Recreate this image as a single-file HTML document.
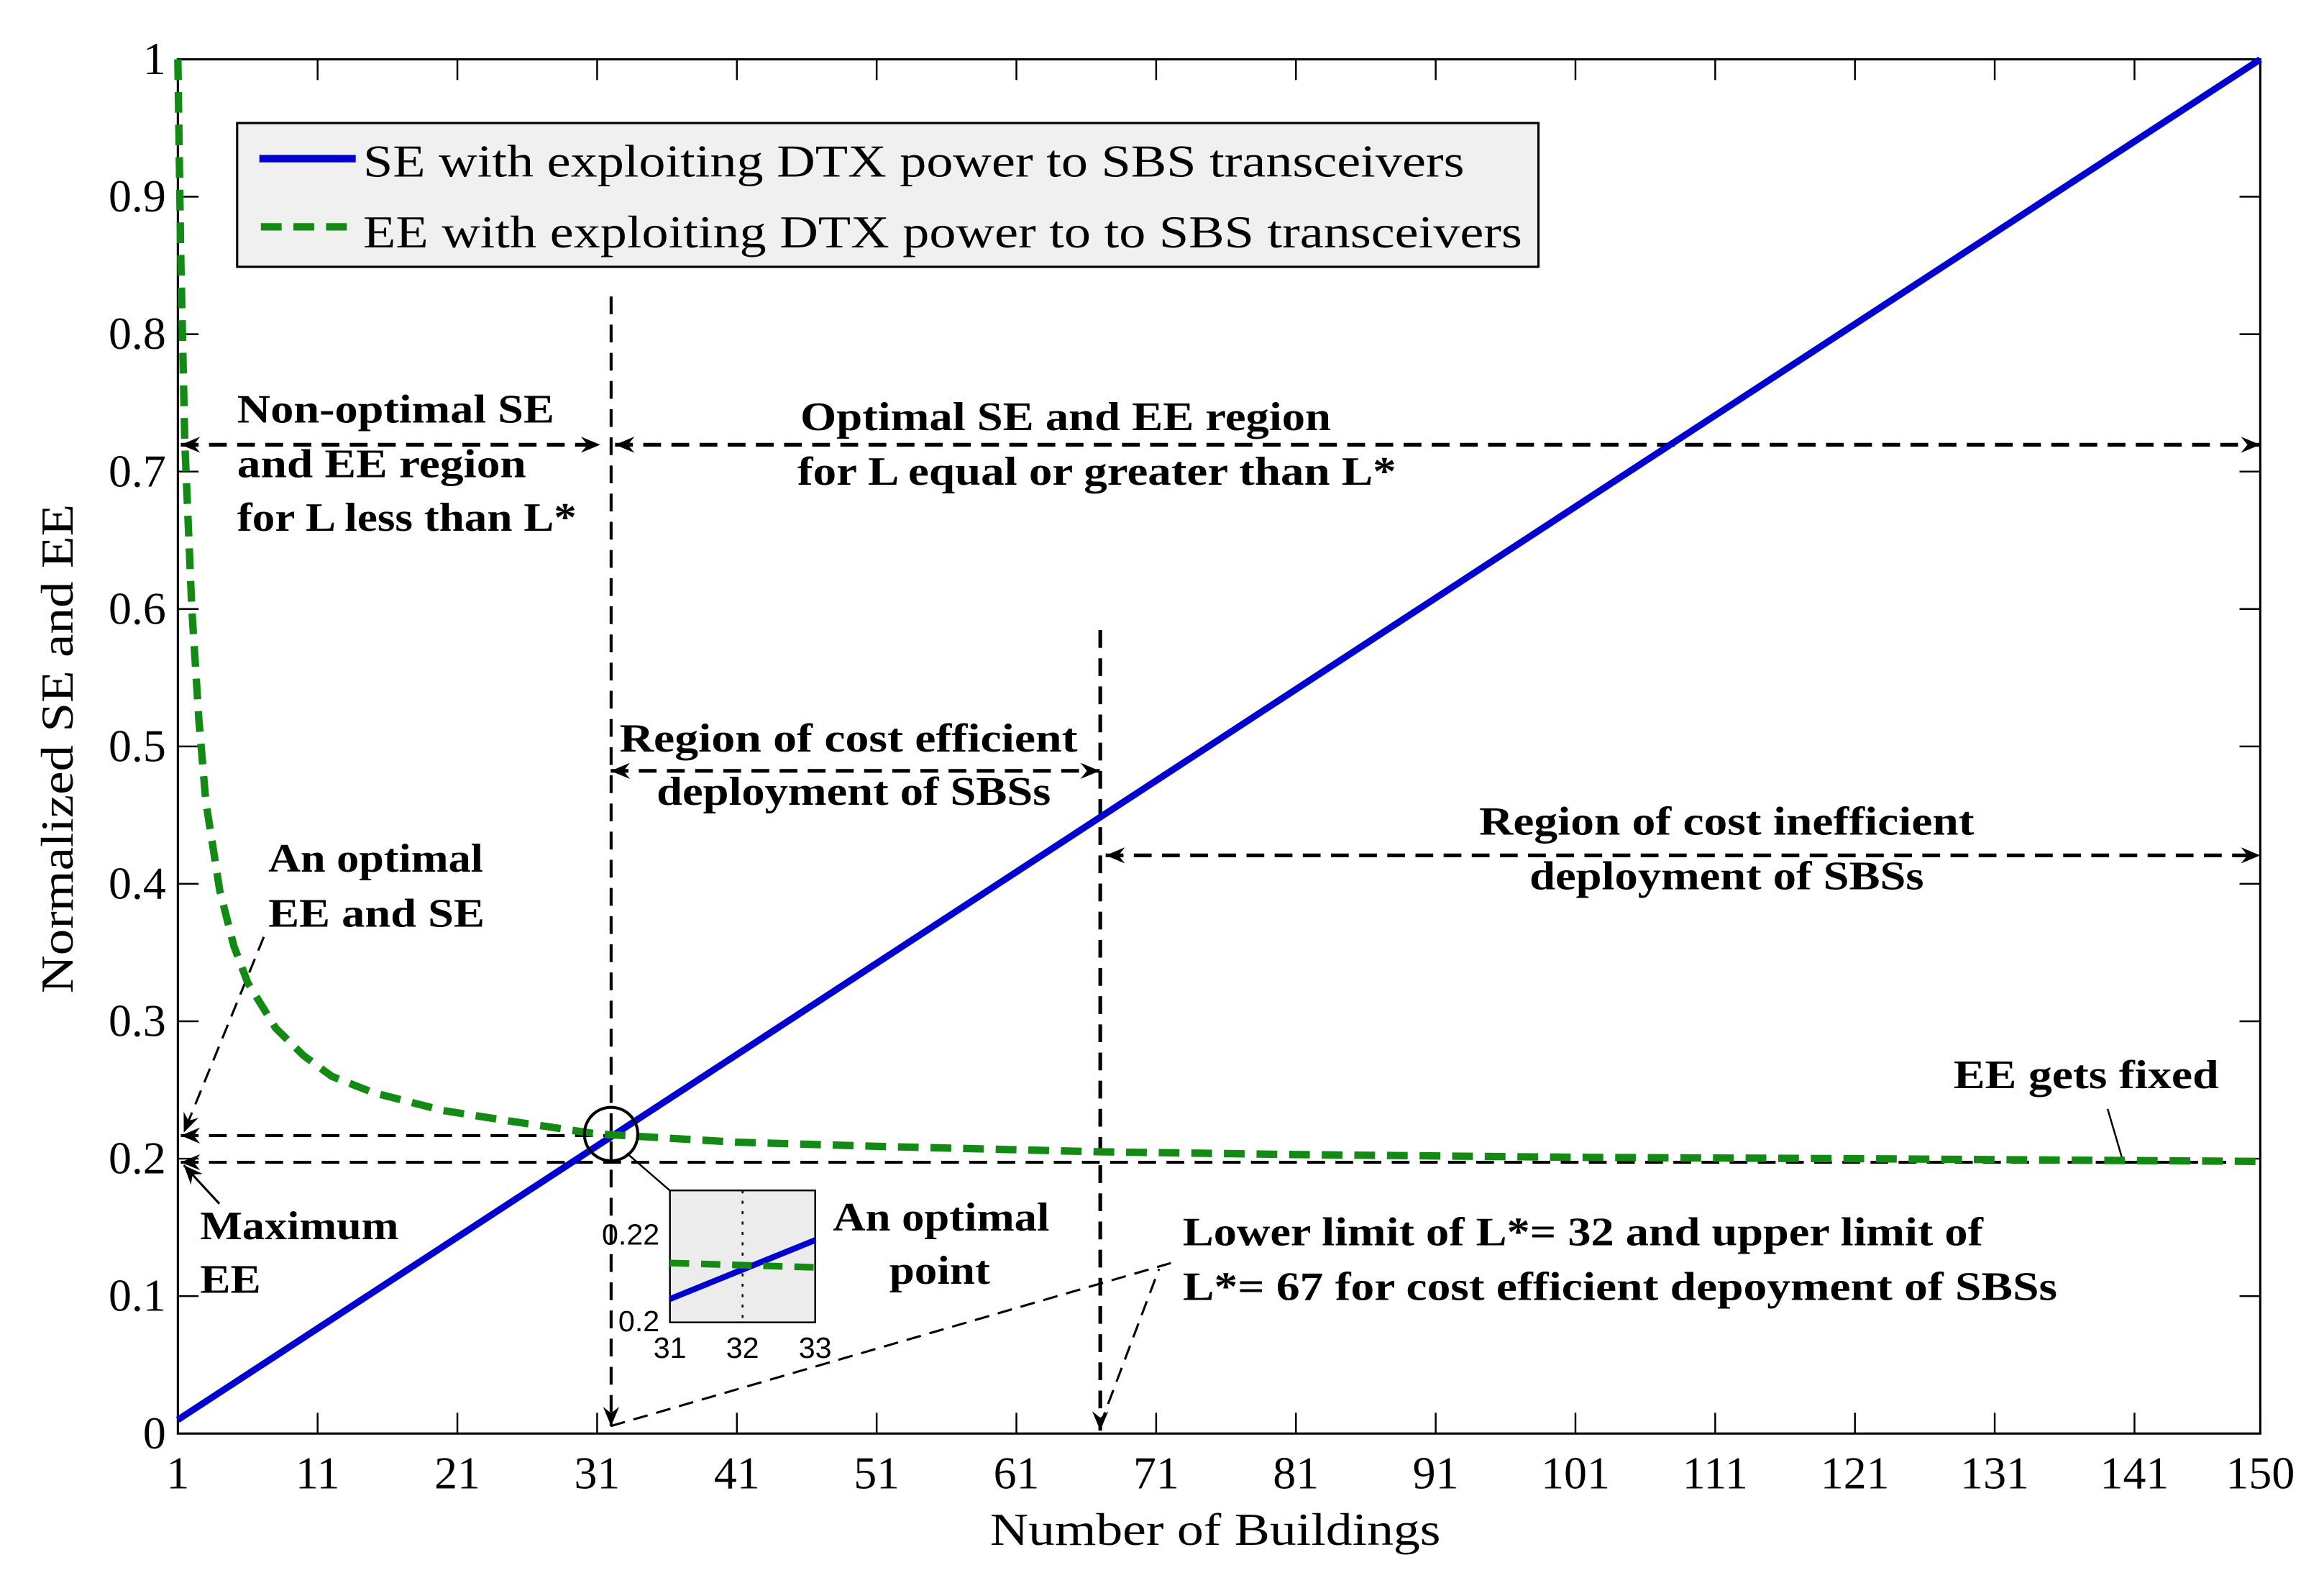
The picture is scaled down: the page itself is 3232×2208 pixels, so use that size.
<!DOCTYPE html>
<html><head><meta charset="utf-8"><style>
html,body{margin:0;padding:0;background:#fff}
svg{display:block;font-family:"Liberation Serif",serif}
text{font-family:"Liberation Serif",serif}
.ann{font-weight:bold;font-size:27px}
.tk{font-size:31px}
</style></head><body>
<svg id="chart" width="3232" height="2208" viewBox="0 0 1568 1071.2" preserveAspectRatio="none" xmlns="http://www.w3.org/2000/svg" font-family="Liberation Serif, serif">
<defs>
<marker id="ah" viewBox="0 0 12 10" refX="12" refY="5" markerWidth="13" markerHeight="11" orient="auto-start-reverse" markerUnits="userSpaceOnUse"><path d="M0,0 L12,5 L0,10 L4,5 Z" fill="#000"/></marker>
</defs>
<g id="plot"></g>
</svg>
<script>
const xTicks=[1,11,21,31,41,51,61,71,81,91,101,111,121,131,141,150];
const yTicks=[0,0.1,0.2,0.3,0.4,0.5,0.6,0.7,0.8,0.9,1];
const yTickLabels=["0","0.1","0.2","0.3","0.4","0.5","0.6","0.7","0.8","0.9","1"];
const seX=[1,150];
const seY=[0.01,1.0];
const eeX=[1,1.2,1.5,2,2.5,3,4,5,6,8,10,12,15,20,25,31,41,51,67,81,101,121,150];
const eeY=[1.0,0.86,0.72,0.6,0.52,0.46,0.395,0.355,0.328,0.295,0.275,0.26,0.248,0.235,0.227,0.218,0.212,0.209,0.205,0.203,0.201,0.2,0.198];
const insetX=[31,33];
const insetSE=[0.2053,0.2187];
const insetEE=[0.2135,0.2125];

const L=120,R=1525,T=40,B=967;
const sx=v=>L+(v-1)/(149)*(R-L);
const sy=v=>B-v*(B-T);
const NS="http://www.w3.org/2000/svg";
const g=document.getElementById('plot');
function el(tag,attrs,parent){const e=document.createElementNS(NS,tag);for(const k in attrs)e.setAttribute(k,attrs[k]);(parent||g).appendChild(e);return e;}
function txt(s,x,y,cls,anchor,len){const a={x:x,y:y,class:cls||'','text-anchor':anchor||'start','font-family':'Liberation Serif, serif'};if(len){a.textLength=len;a.lengthAdjust='spacingAndGlyphs';}const e=el('text',a);e.textContent=s;return e;}

const box=el('rect',{x:L,y:T,width:R-L,height:B-T,fill:'none',stroke:'#000','stroke-width':1.5});


xTicks.forEach(v=>{
  const x=sx(v);
  const t1=el('line',{x1:x,y1:B,x2:x,y2:B-14,stroke:'#000','stroke-width':1.2});
  
  
  el('line',{x1:x,y1:T,x2:x,y2:T+14,stroke:'#000','stroke-width':1.2});
  const l=txt(String(v),x,1004,'tk','middle');
  
  
});
yTicks.forEach((v,i)=>{
  const y=sy(v);
  const t1=el('line',{x1:L,y1:y,x2:L+14,y2:y,stroke:'#000','stroke-width':1.2});
  
  
  el('line',{x1:R,y1:y,x2:R-14,y2:y,stroke:'#000','stroke-width':1.2});
  const l=txt(yTickLabels[i],112,y+10,'tk','end');
  
  
});
const xt=txt('Number of Buildings',820,1042,'tk','middle',304);


const yt=txt('Normalized SE and EE',0,0,'tk','middle',330);
yt.setAttribute('transform','translate(49,505) rotate(-90)');



function dl(x1,y1,x2,y2,name,ms,me,w,dash){
  const a={x1:x1,y1:y1,x2:x2,y2:y2,stroke:'#000','stroke-width':w||2,'stroke-dasharray':dash||'12,7'};
  if(ms)a['marker-start']='url(#ah)';if(me)a['marker-end']='url(#ah)';
  const e=el('line',a);
  
  
  return e;
}
dl(sx(32),200,sx(32),962,'lstar-lower-line',false,true);
dl(sx(67),425,sx(67),965,'lstar-upper-line',false,true,2.5);
dl(122,300,405,300,'non-optimal-arrow',true,true,2.5);
dl(415,300,1525,300,'optimal-arrow',true,true,2.5);
dl(412,520,742,520,'cost-efficient-arrow',true,true,2.5);
dl(746,577,1525,577,'cost-inefficient-arrow',true,true,2.5);
dl(122,766,sx(32),766,'optimal-ee-line',true,false);
dl(122,784,1525,784,'max-ee-line',true,false);
dl(178,632,124,764,'optimal-ee-leader',false,true,1.5,'10,6');
dl(148,812,124,786,'max-ee-leader',false,true,1.5,'none');
dl(412,962,790,852,'lower-limit-leader',false,false,1.5,'10,6');
dl(742,962,782,856,'upper-limit-leader',false,false,1.5,'10,6');
dl(1422,748,1432,782,'ee-fixed-leader',false,false,1.2,'none');

const sePts=seX.map((v,i)=>sx(v)+','+sy(seY[i])).join(' ');
const se=el('polyline',{points:sePts,fill:'none',stroke:'#0000d0','stroke-width':4.5});


const eePts=eeX.map((v,i)=>sx(v)+','+sy(eeY[i])).join(' ');
const ee=el('polyline',{points:eePts,fill:'none',stroke:'#138a13','stroke-width':5,'stroke-dasharray':'14,8','stroke-linejoin':'round'});



const c=el('circle',{cx:sx(32),cy:765,r:18,fill:'none',stroke:'#000','stroke-width':2});


el('line',{x1:423,y1:778,x2:490,y2:836,stroke:'#000','stroke-width':1.2});
const ig=el('g',{});


const IL=452,IR=550,IT=803,IB=892;
const ix=v=>IL+(v-31)/2*(IR-IL);
const iy=v=>IB-(v-0.2)/0.03*(IB-IT);
el('rect',{x:IL,y:IT,width:IR-IL,height:IB-IT,fill:'#ececec',stroke:'#000','stroke-width':1.2},ig);
el('line',{x1:ix(32),y1:IT,x2:ix(32),y2:IB,stroke:'#000','stroke-width':1.2,'stroke-dasharray':'2,5'},ig);
el('polyline',{points:insetX.map((v,i)=>ix(v)+','+iy(insetSE[i])).join(' '),fill:'none',stroke:'#0000d0','stroke-width':4},ig);
el('polyline',{points:insetX.map((v,i)=>ix(v)+','+iy(insetEE[i])).join(' '),fill:'none',stroke:'#138a13','stroke-width':4.5,'stroke-dasharray':'13,8'},ig);
[['0.22',445,iy(0.22)+7,'end'],['0.2',445,iy(0.2)+6,'end'],['31',IL,916,'middle'],['32',ix(32),916,'middle'],['33',IR,916,'middle']].forEach(a=>{
  const e=el('text',{x:a[1],y:a[2],'text-anchor':a[3],'font-size':20,'font-family':'Liberation Sans, sans-serif',style:'font-family:"Liberation Sans",sans-serif'},ig);e.textContent=a[0];
});

[['Non-optimal SE',160,285,214],['and EE region',160,322,195],['for L less than L*',160,358,229],
 ['Optimal SE and EE region',540,290,358],['for L equal or greater than L*',538,327,404],
 ['Region of cost efficient',418,507,309],['deployment of SBSs',443,543,266],
 ['Region of cost inefficient',998,563,334],['deployment of SBSs',1032,600,266],
 ['An optimal',181,588,145],['EE and SE',181,625,146],['Maximum',135,836,134],['EE',135,872,41],
 ['An optimal',562,830,146],['point',600,866,68],
 ['Lower limit of L*= 32 and upper limit of',798,840,540],['L*= 67 for cost efficient depoyment of SBSs',798,877,590],
 ['EE gets fixed',1318,734,179]].forEach(a=>{
  const e=txt(a[0],a[1],a[2],'ann','start',a[3]);
  
  
});

const lg=el('g',{});


el('rect',{x:160,y:83,width:878,height:97,fill:'#f0f0f0',stroke:'#000','stroke-width':1.5},lg);
el('line',{x1:175,y1:107,x2:240,y2:107,stroke:'#0000d0','stroke-width':5},lg);
el('line',{x1:176,y1:153,x2:240,y2:153,stroke:'#138a13','stroke-width':5,'stroke-dasharray':'14,8'},lg);
const l1=el('text',{x:245,y:119,class:'tk',textLength:743,lengthAdjust:'spacingAndGlyphs','font-family':'Liberation Serif, serif'},lg);l1.textContent='SE with exploiting DTX power to SBS transceivers';


const l2=el('text',{x:245,y:167,class:'tk',textLength:782,lengthAdjust:'spacingAndGlyphs','font-family':'Liberation Serif, serif'},lg);l2.textContent='EE with exploiting DTX power to to SBS transceivers';


</script>
</body></html>
